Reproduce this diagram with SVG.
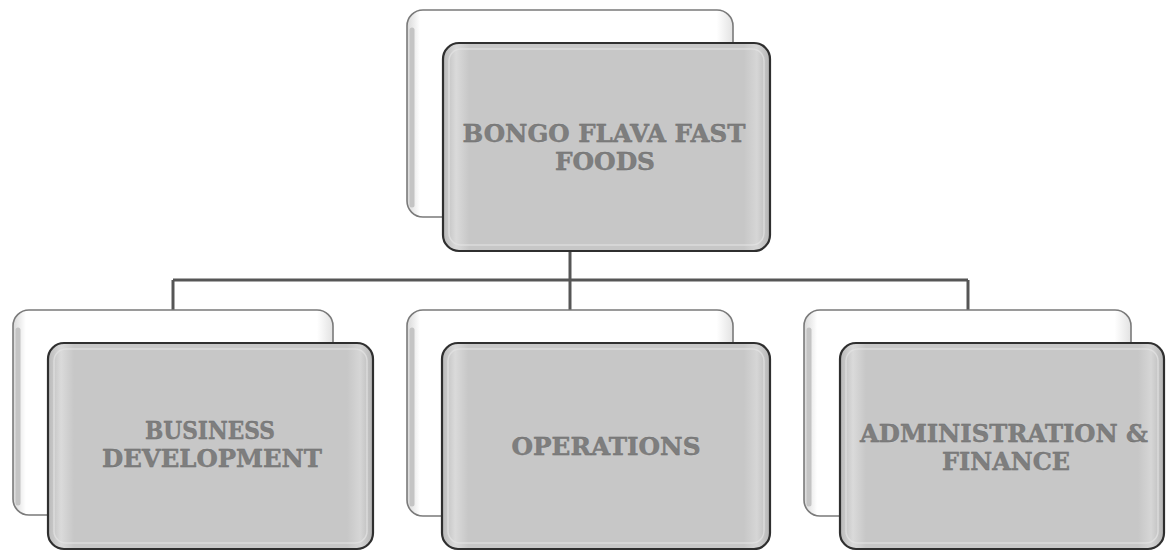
<svg xmlns="http://www.w3.org/2000/svg" width="1166" height="551" viewBox="0 0 1166 551">
<defs>
<linearGradient id="gFront" x1="0" y1="0" x2="1" y2="0">
<stop offset="0" stop-color="#b9b9b9"/>
<stop offset="0.04" stop-color="#dadada"/>
<stop offset="0.08" stop-color="#c7c7c7"/>
<stop offset="0.92" stop-color="#c7c7c7"/>
<stop offset="0.96" stop-color="#d6d6d6"/>
<stop offset="1" stop-color="#b5b5b5"/>
</linearGradient>
<linearGradient id="gBack" x1="0" y1="0" x2="1" y2="0">
<stop offset="0" stop-color="#d8d8d8"/>
<stop offset="0.04" stop-color="#ffffff"/>
<stop offset="0.95" stop-color="#ffffff"/>
<stop offset="1" stop-color="#e2e2e2"/>
</linearGradient>
</defs>
<style>
.back{fill:url(#gBack);stroke:#7a7a7a;stroke-width:1.6}
.backsh{fill:none;stroke:#c4c4c4;stroke-width:5;stroke-linecap:round}
.front{fill:url(#gFront);stroke:#2f2f2f;stroke-width:2.2}
.inner{fill:none;stroke:#e4e4e4;stroke-width:1.5;opacity:0.7}
.lbl{font-family:"DejaVu Serif","Liberation Serif",serif;font-weight:bold;font-size:23.5px;fill:#7e7e7e;stroke:#6e6e6e;stroke-width:0.4;text-anchor:middle}
.conn{fill:none;stroke:#565656;stroke-width:3}
</style>
<rect width="1166" height="551" fill="#ffffff"/>
<g id="connectors">
<path class="conn" d="M570 251 V310"/>
<path class="conn" d="M173 280 H968"/>
<path class="conn" d="M173 280 V310"/>
<path class="conn" d="M968 280 V310"/>
</g>
<g id="node-top">
<rect class="back" x="407" y="10" width="326" height="207" rx="16"/>
<path class="backsh" d="M412 30 V205"/>
<rect class="front" x="443" y="43" width="327" height="208" rx="16"/>
<rect class="inner" x="449" y="49" width="315" height="196" rx="12"/>
<text class="lbl" x="604" y="142" textLength="283" lengthAdjust="spacingAndGlyphs">BONGO FLAVA FAST</text>
<text class="lbl" x="605" y="170" textLength="100" lengthAdjust="spacingAndGlyphs">FOODS</text>
</g>
<g id="node-business">
<rect class="back" x="13" y="310" width="320" height="205" rx="16"/>
<path class="backsh" d="M18 330 V503"/>
<rect class="front" x="48" y="343" width="325" height="206" rx="16"/>
<rect class="inner" x="54" y="349" width="313" height="194" rx="12"/>
<text class="lbl" x="210" y="439" textLength="130" lengthAdjust="spacingAndGlyphs">BUSINESS</text>
<text class="lbl" x="212" y="467" textLength="220" lengthAdjust="spacingAndGlyphs">DEVELOPMENT</text>
</g>
<g id="node-operations">
<rect class="back" x="407" y="310" width="326" height="206" rx="16"/>
<path class="backsh" d="M412 330 V504"/>
<rect class="front" x="442" y="343" width="328" height="206" rx="16"/>
<rect class="inner" x="448" y="349" width="316" height="194" rx="12"/>
<text class="lbl" x="606" y="455" textLength="189" lengthAdjust="spacingAndGlyphs">OPERATIONS</text>
</g>
<g id="node-admin">
<rect class="back" x="804" y="310" width="327" height="206" rx="16"/>
<path class="backsh" d="M809 330 V504"/>
<rect class="front" x="840" y="343" width="324" height="206" rx="16"/>
<rect class="inner" x="846" y="349" width="312" height="194" rx="12"/>
<text class="lbl" x="1004" y="442" textLength="288" lengthAdjust="spacingAndGlyphs">ADMINISTRATION &amp;</text>
<text class="lbl" x="1006" y="470" textLength="128" lengthAdjust="spacingAndGlyphs">FINANCE</text>
</g>
</svg>
